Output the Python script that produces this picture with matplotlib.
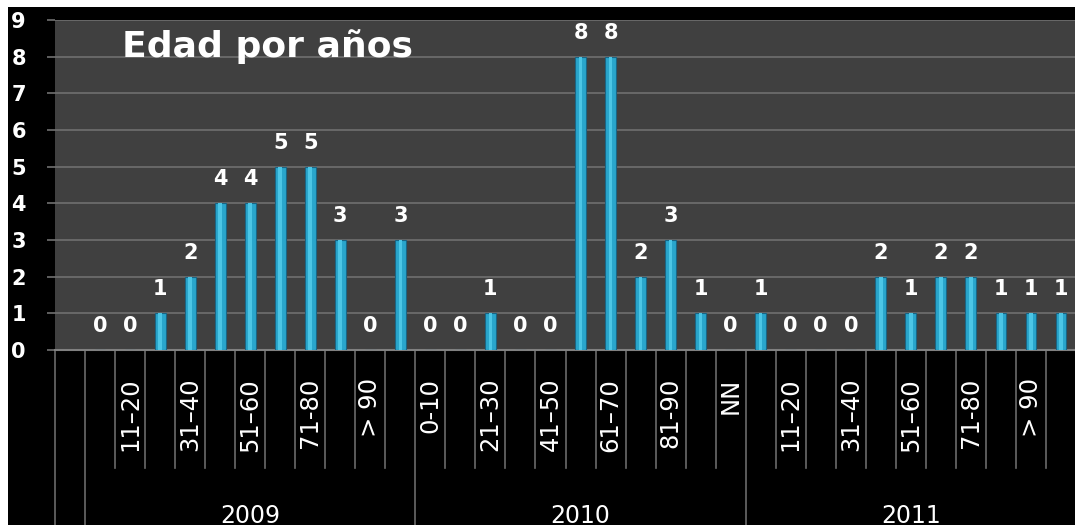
import matplotlib
matplotlib.use("Agg")
import matplotlib.pyplot as plt
from matplotlib.patches import Rectangle
from matplotlib.transforms import blended_transform_factory

# ---- data ----
title = "Edad por años"
years = ["2009", "2010", "2011"]
age_groups = ["0-10", "11–20", "21–30", "31–40", "41–50", "51–60",
              "61–70", "71-80", "81-90", "> 90", "NN"]
values_2009 = [0, 0, 1, 2, 4, 4, 5, 5, 3, 0, 3]
values_2010 = [0, 0, 1, 0, 0, 8, 8, 2, 3, 1, 0]
values_2011 = [1, 0, 0, 0, 2, 1, 2, 2, 1, 1, 1]
series = [values_2009, values_2010, values_2011]
y_ticks = list(range(0, 10))

W, H = 1075, 529
fig = plt.figure(figsize=(W / 100, H / 100), dpi=100)
fig.patch.set_facecolor("white")
fig.patches.append(Rectangle((8 / W, 4 / H), 1 - 8 / W, (525 - 7) / H,
                             transform=fig.transFigure, facecolor="black",
                             edgecolor="none", zorder=-10))

ax = fig.add_axes([55 / W, (H - 350) / H, (1076 - 55) / W, (350 - 20) / H])
ax.set_facecolor("#404040")

# category layout: one blank leading category, then 11 per year
n_per = len(age_groups)
positions, vals, labels = [0], [None], [""]
for yi, vals_y in enumerate(series):
    for j, v in enumerate(vals_y):
        positions.append(1 + yi * n_per + j)
        vals.append(v)
        labels.append(age_groups[j])
n_cat = len(positions)

bx = [p for p, v in zip(positions, vals) if v is not None]
bv = [v for v in vals if v is not None]
ax.bar(bx, bv, width=0.36, color="#29a6cc", edgecolor="#1a6584",
       linewidth=0.8, zorder=3)
ax.bar(bx, bv, width=0.12, color="#4cc6e6", linewidth=0, zorder=4)

for x, v in zip(bx, bv):
    ax.annotate(str(v), (x, v), xytext=(0, 10), textcoords="offset points",
                ha="center", va="bottom", color="white", fontsize=15,
                fontweight="bold", family="DejaVu Sans", zorder=5)

ax.set_xlim(-0.5, n_cat - 0.5)
ax.set_ylim(0, 9)
ax.set_yticks(y_ticks)
ax.set_yticklabels([str(t) for t in y_ticks], color="white", fontsize=15,
                   fontweight="bold", family="DejaVu Sans")
ax.tick_params(axis="y", direction="out", length=6, color="#707070",
               width=1.2, pad=15)
ax.yaxis.grid(True, color="#6c6c6c", linewidth=1.3)
ax.set_axisbelow(True)

shown = [lab if (i % 2 == 0) else "" for i, lab in enumerate(labels)]
ax.set_xticks(positions)
ax.set_xticklabels(shown, rotation=90, color="white", fontsize=17.5,
                   family="DejaVu Sans")
ax.tick_params(axis="x", length=0, pad=20)

for s in ["top", "left", "right"]:
    ax.spines[s].set_visible(False)
ax.spines["bottom"].set_color("#808080")
ax.spines["bottom"].set_linewidth(1.5)

# divider lines in the category area
tr = blended_transform_factory(ax.transData, ax.transAxes)
ah = 330.0
group_edges = [-0.5, 0.5] + [0.5 + (yi + 1) * n_per for yi in range(len(years) - 1)]
for k in range(n_cat + 1):
    b = k - 0.5
    low = -(525 - 350) / ah if b in group_edges else -(468 - 350) / ah
    ax.plot([b, b], [0, low], transform=tr, color="#6a6a6a", linewidth=1.2,
            clip_on=False, zorder=1)

for yi, yr in enumerate(years):
    c = 1 + yi * n_per + (n_per - 1) / 2
    ax.text(c, -(504 - 350) / ah, yr, transform=tr, ha="center", va="top",
            color="white", fontsize=17, family="DejaVu Sans")

fig.text(122 / W, 1 - 57 / H, title, ha="left", va="baseline", color="white",
         fontsize=26, fontweight="bold", family="DejaVu Sans")

fig.patches.append(Rectangle((0, 0), 1, 4 / H, transform=fig.transFigure,
                             facecolor="white", edgecolor="none", zorder=100))

fig.savefig("out.png", dpi=100, facecolor=fig.get_facecolor())
